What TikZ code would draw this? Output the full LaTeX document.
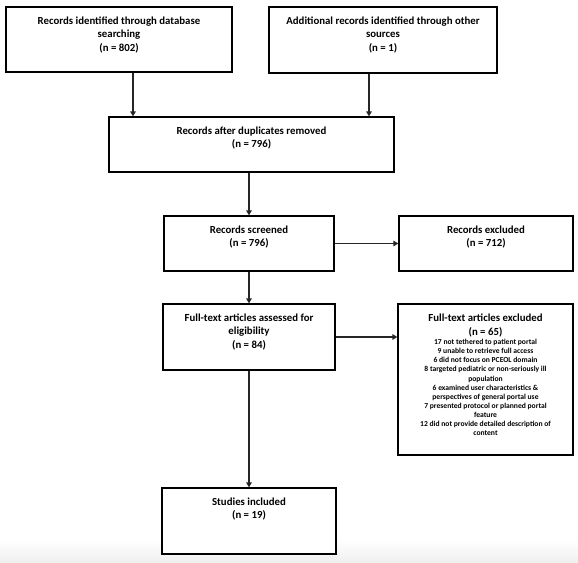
\documentclass[tikz,border=0pt]{standalone}
\usepackage{fontspec}
\setmainfont{Carlito}
\usetikzlibrary{arrows.meta}
\newcommand{\bigtxt}{\fontsize{10.8}{13.5}\selectfont\bfseries}
\newcommand{\smalltxt}{\fontsize{7.6}{9.1}\selectfont\bfseries}
% \bx{name}{x1}{y1}{x2}{y2}{pad}{content}
\newcommand{\bx}[7]{%
  \pgfmathsetmacro{\bw}{#4-#2}%
  \pgfmathsetmacro{\bh}{#5-#3}%
  \node[flowbox] (#1) at ({(#2+#4)/2},{(#3+#5)/2})
    {\begin{minipage}[c][\bh pt][t]{\bw pt}\centering\vspace*{#6pt}#7\end{minipage}};}
\begin{document}
\begin{tikzpicture}[x=1pt,y=-1pt,
  flowbox/.style={draw=black, line width=1.2pt, inner sep=0pt, fill=white},
  arr/.style={draw=black!85, line width=1.5pt, -{Triangle[length=5pt,width=5.5pt]}}]
\useasboundingbox (0,0) rectangle (578,562);
\shade[top color=white, bottom color=black!6] (0,540) rectangle (578,562);
\bx{A}{6}{7}{232}{72}{9.5}{\bigtxt Records identified through database\\ searching\\ (n = 802)}
\bx{B}{269}{7}{497}{73}{9.5}{\bigtxt Additional records identified through other\\ sources\\ (n = 1)}
\bx{C}{109}{117}{394}{172}{9.5}{\bigtxt Records after duplicates removed\\ (n = 796)}
\bx{D}{164}{216}{334}{271}{9.5}{\bigtxt Records screened\\ (n = 796)}
\bx{E}{399}{216}{573}{271}{9.5}{\bigtxt Records excluded\\ (n = 712)}
\bx{F}{163}{304}{335}{370}{9.5}{\bigtxt Full-text articles assessed for\\ eligibility\\ (n = 84)}
\bx{G}{398}{304}{573}{455}{9.5}{{\bigtxt Full-text articles excluded\\[1pt] (n = 65)\par}{\smalltxt 17 not tethered to patient portal\\ 9 unable to retrieve full access\\ 6 did not focus on PCEOL domain\\ 8 targeted pediatric or non-seriously ill\\ population\\ 6 examined user characteristics \&\\ perspectives of general portal use\\ 7 presented protocol or planned portal\\ feature\\ 12 did not provide detailed description of\\ content\par}}
\bx{H}{162}{488}{336}{554}{9.5}{\bigtxt Studies included\\ (n = 19)}
\draw[arr] ([xshift=14pt]A.south) -- ([xshift=14pt]A.south |- C.north);
\draw[arr] ([xshift=-14pt]B.south) -- ([xshift=-14pt]B.south |- C.north);
\draw[arr] (D.north |- C.south) -- (D.north);
\draw[arr] (D.south) -- (D.south |- F.north);
\draw[arr] (D.east) -- (D.east -| E.west);
\draw[arr] (F.east) -- (F.east -| G.west);
\draw[arr] (F.south) -- (F.south |- H.north);
\end{tikzpicture}
\end{document}
